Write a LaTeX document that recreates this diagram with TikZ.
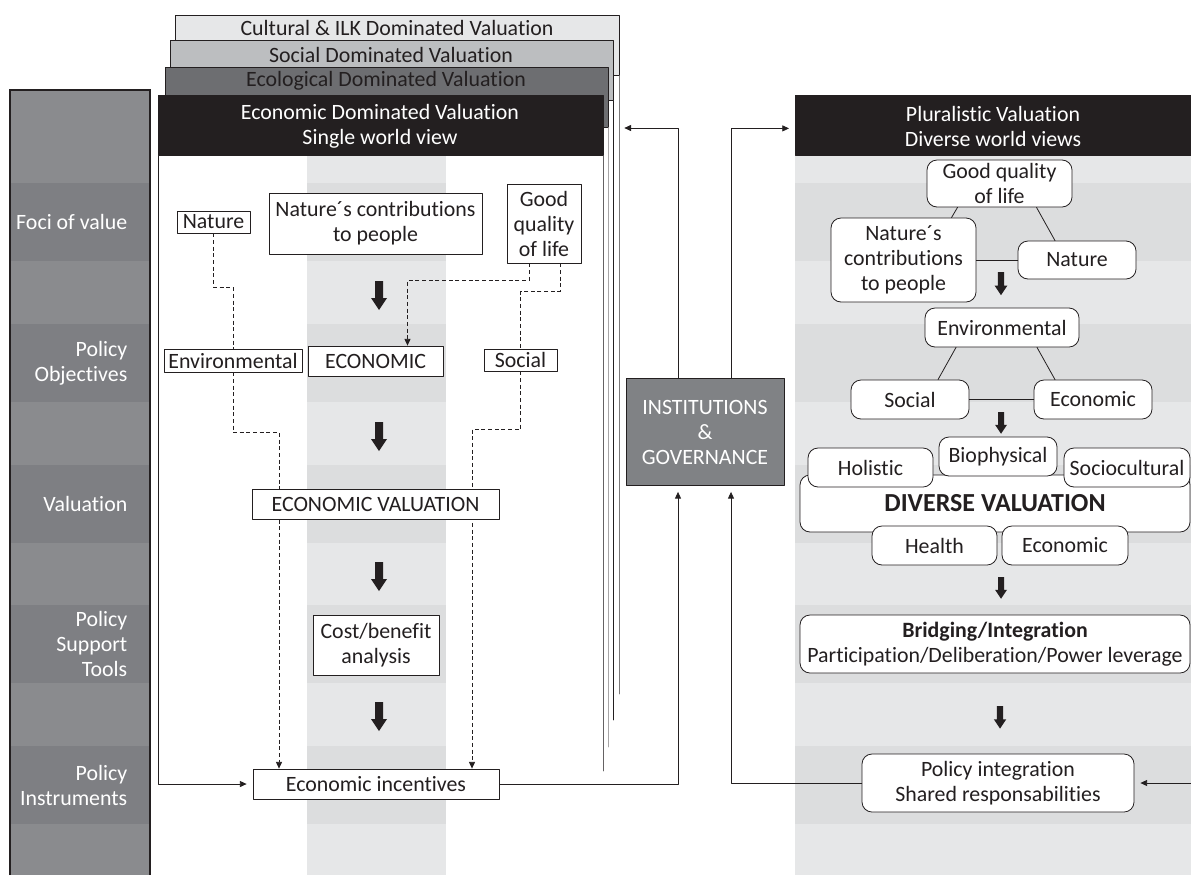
\documentclass[tikz,border=0pt]{standalone}
\usepackage{fontspec}
\setmainfont{Carlito}[RawFeature=-liga]
\usetikzlibrary{arrows.meta}
\usetikzlibrary{calc}
\definecolor{ink}{HTML}{231F20}
\definecolor{culgray}{HTML}{E6E7E8}
\definecolor{socgray}{HTML}{BCBEC0}
\definecolor{ecogray}{HTML}{6D6E71}
\definecolor{instgray}{HTML}{808285}
\definecolor{leftlight}{HTML}{8A8B8E}
\definecolor{leftdark}{HTML}{7E7F83}
\definecolor{bandlight}{HTML}{E6E7E8}
\definecolor{banddark}{HTML}{DCDDDE}
\pgfdeclarelayer{bg}
\pgfdeclarelayer{lines}
\pgfsetlayers{bg,lines,main}
% thick black down arrow: x, top y, scale
\newcommand{\blockarrow}[3]{%
  \fill[ink] (#1,#2) ++(-4*#3,0) -- ++(8*#3,0) -- ++(0,17*#3) -- ++(4*#3,0)
    -- ++(-8*#3,12*#3) -- ++(-8*#3,-12*#3) -- ++(4*#3,0) -- cycle;}

\begin{document}
\begin{tikzpicture}[x=0.75pt,y=-0.75pt,line cap=round,line join=round,
    >={Triangle[length=5pt,width=4.5pt]},
    every node/.style={font=\fontsize{16.4}{18.75}\selectfont},
    sz/.style 2 args={minimum width=#1*0.75pt,minimum height=#2*0.75pt},
    box/.style={draw=ink,fill=white,line width=0.6pt,inner sep=1pt,align=center,text=ink},
    rbox/.style={box,rounded corners=7.5pt},
    hdr/.style={draw=ink,line width=0.6pt,anchor=north west,inner sep=0pt},
    lbl/.style={text=white,align=right,anchor=east},
    link/.style={draw=ink,line width=0.6pt},
    dashline/.style={link,dash pattern=on 3pt off 2pt}]
    \useasboundingbox (0,0) rectangle (1191,875);

    % columns and bands
    \begin{pgfonlayer}{bg}
    \fill[leftlight] (10,90) rectangle (150,875);
    \fill[bandlight] (307,155) rectangle (446,875);
    \fill[bandlight] (795,155) rectangle (1191,875);
    \foreach \t in {183,324,465,605,746} {
      \fill[leftdark] (10,\t) rectangle (150,\t+78);
      \fill[banddark] (307,\t) rectangle (446,\t+78);
      \fill[banddark] (795,\t) rectangle (1191,\t+78);
    }
    \draw[ink,line width=0.8pt] (10,875) -- (10,90) -- (150,90) -- (150,875);
    \end{pgfonlayer}

    \node[lbl] (lfoci) at (132,222) {Foci of value};
    \node[lbl] (lobj) at (132,363) {Policy\\Objectives};
    \node[lbl] (lval) at (132,504) {Valuation};
    \node[lbl] (ltool) at (132,644) {Policy\\Support\\Tools};
    \node[lbl] (linst) at (132,785) {Policy\\Instruments};

    % stacked sheets
    \node[hdr,fill=culgray,sz={444}{60}] (hcul) at (175,15) {};
    \draw[ink!60,line width=0.7pt] (hcul.south east) -- ++(0,618);
    \node[hdr,fill=socgray,sz={443}{60}] (hsoc) at (170,40) {};
    \draw[ink,line width=0.7pt] (hsoc.south east) -- ++(0,619);
    \node[hdr,fill=ecogray,sz={443}{60}] (heco) at (165,67) {};
    \draw[ink!40,line width=0.9pt] (heco.south east) -- ++(0,619);
    \node[hdr,fill=ink,sz={445}{60}] (hecn) at (158,95) {};
    \draw[ink!70,line width=0.7pt] (hecn.south east) -- ++(0,615);
    \node[text=ink] (tcul) at (397,28) {Cultural \& ILK Dominated Valuation};
    \node[text=ink] (tsoc) at (391,55) {Social Dominated Valuation};
    \node[text=ink] (teco) at (386,81) {Ecological Dominated Valuation};
    \node[text=white,align=center] (tecn) at (380,126) {Economic Dominated Valuation\\Single world view};

    % single world view
    \node[box,sz={73}{22}] (nat) at (213.5,222) {Nature};
    \node[box,sz={213}{61}] (ncp) at (375.5,223.5) {Nature´s contributions\\to people};
    \node[box,sz={74}{79}] (gq) at (544,223.5) {Good\\quality\\of life};
    \node[box,sz={138}{23}] (env) at (233,360.5) {Environmental};
    \node[box,sz={135}{30}] (econ) at (375.5,361) {ECONOMIC};
    \node[box,sz={73}{22}] (soc) at (520.5,360) {Social};
    \node[box,sz={247}{30}] (ev) at (375.5,504) {ECONOMIC VALUATION};
    \node[box,sz={126}{60}] (cba) at (376,645) {Cost/benefit\\analysis};
    \node[box,sz={246}{30}] (inc) at (376,784) {Economic incentives};
    \foreach \y in {281,422,562,702}
      \blockarrow{379}{\y}{1};

    \begin{pgfonlayer}{lines}
    \draw[dashline] (nat.south) -- ++(0,54) -| (env.north);
    \draw[dashline,->] ($(gq.south)+(-15,0)$) -- ++(0,17) -| ($(econ.north)+(32,0)$);
    \draw[dashline] ($(gq.south)+(16,0)$) -- ++(0,28) -| (soc.north);
    \draw[dashline,->] (env.south) -- ++(0,60) -| ($(inc.north)+(-97,0)$);
    \draw[dashline,->] (soc.south) -- ++(0,58) -| ($(inc.north)+(96,0)$);
    \end{pgfonlayer}
    \draw[link,->,shorten >=4.5pt] (hecn.south west) |- (inc.west);

    % institutions
    \node[box,fill=instgray,text=white,sz={158}{107}] (inst) at (705,432) {INSTITUTIONS\\\&\\GOVERNANCE};
    \coordinate (stk) at (619,128);
    \coordinate (redge) at (1191,783);

    % diverse world views
    \node[hdr,fill=ink,sz={396}{60}] (rhdr) at (795,95) {};
    \node[text=white,align=center] (trhdr) at (993,126) {Pluralistic Valuation\\Diverse world views};
    \node[rbox,sz={145}{47}] (rgq) at (999.5,183.5) {Good quality\\of life};
    \node[rbox,sz={145}{84}] (rncp) at (903.5,260) {Nature´s\\contributions\\to people};
    \node[rbox,sz={118}{38}] (rnat) at (1077,260) {Nature};
    \node[rbox,sz={154}{39}] (renv) at (1002,327.5) {Environmental};
    \node[rbox,sz={118}{39}] (rsoc) at (910,399.5) {Social};
    \node[rbox,sz={118}{39}] (reco) at (1093,399.5) {Economic};
    \node[rbox,sz={390}{57},font=\bfseries\fontsize{19.5}{22}\selectfont] (rdiv) at (995,503.5) {DIVERSE VALUATION};
    \node[rbox,sz={125}{39}] (rhol) at (870.5,467.5) {Holistic};
    \node[rbox,sz={118}{39}] (rbio) at (998,456.5) {Biophysical};
    \node[rbox,sz={126}{39}] (rscu) at (1127,467.5) {Sociocultural};
    \node[rbox,sz={125}{39}] (rhea) at (934.5,545.5) {Health};
    \node[rbox,sz={126}{39}] (reco2) at (1065,545.5) {Economic};
    \node[rbox,sz={390}{58}] (rbri) at (995,644) {\textbf{Bridging/Integration}\\Participation/Deliberation/Power leverage};
    \node[rbox,sz={272}{58}] (rpol) at (998,783) {Policy integration\\Shared responsabilities};
    \blockarrow{1001}{272}{0.8}
    \blockarrow{1001}{412}{0.75}
    \blockarrow{1001}{577}{0.75}
    \blockarrow{1000}{706}{0.78}

    \draw[link] ($(rgq.south)+(-42,0)$) -- ($(rncp.north)+(48,0)$);
    \draw[link] ($(rgq.south)+(37,0)$) -- ($(rnat.north)+(-22,0)$);
    \draw[link] (rncp.east) -- (rnat.west);
    \draw[link] ($(renv.south)+(-46,0)$) -- ($(rsoc.north)+(28,0)$);
    \draw[link] ($(renv.south)+(35,0)$) -- ($(reco.north)+(-38,0)$);
    \draw[link] (rsoc.east) -- (reco.west);

    % feedback loops through institutions
    \draw[link,->,shorten >=4.5pt] (inc.east) -| ($(inst.south)+(-27,0)$);
    \draw[link,->,shorten >=4.5pt] (rpol.west) -| ($(inst.south)+(26,0)$);
    \draw[link,->,shorten >=4pt] ($(inst.north)+(-27,0)$) |- (stk);
    \draw[link,->,shorten >=4.5pt] ($(inst.north)+(26,0)$) |- ($(rhdr.west)+(0,3)$);
    \draw[link,->,shorten >=4.5pt] (redge) -- (rpol.east);
\end{tikzpicture}
\end{document}
